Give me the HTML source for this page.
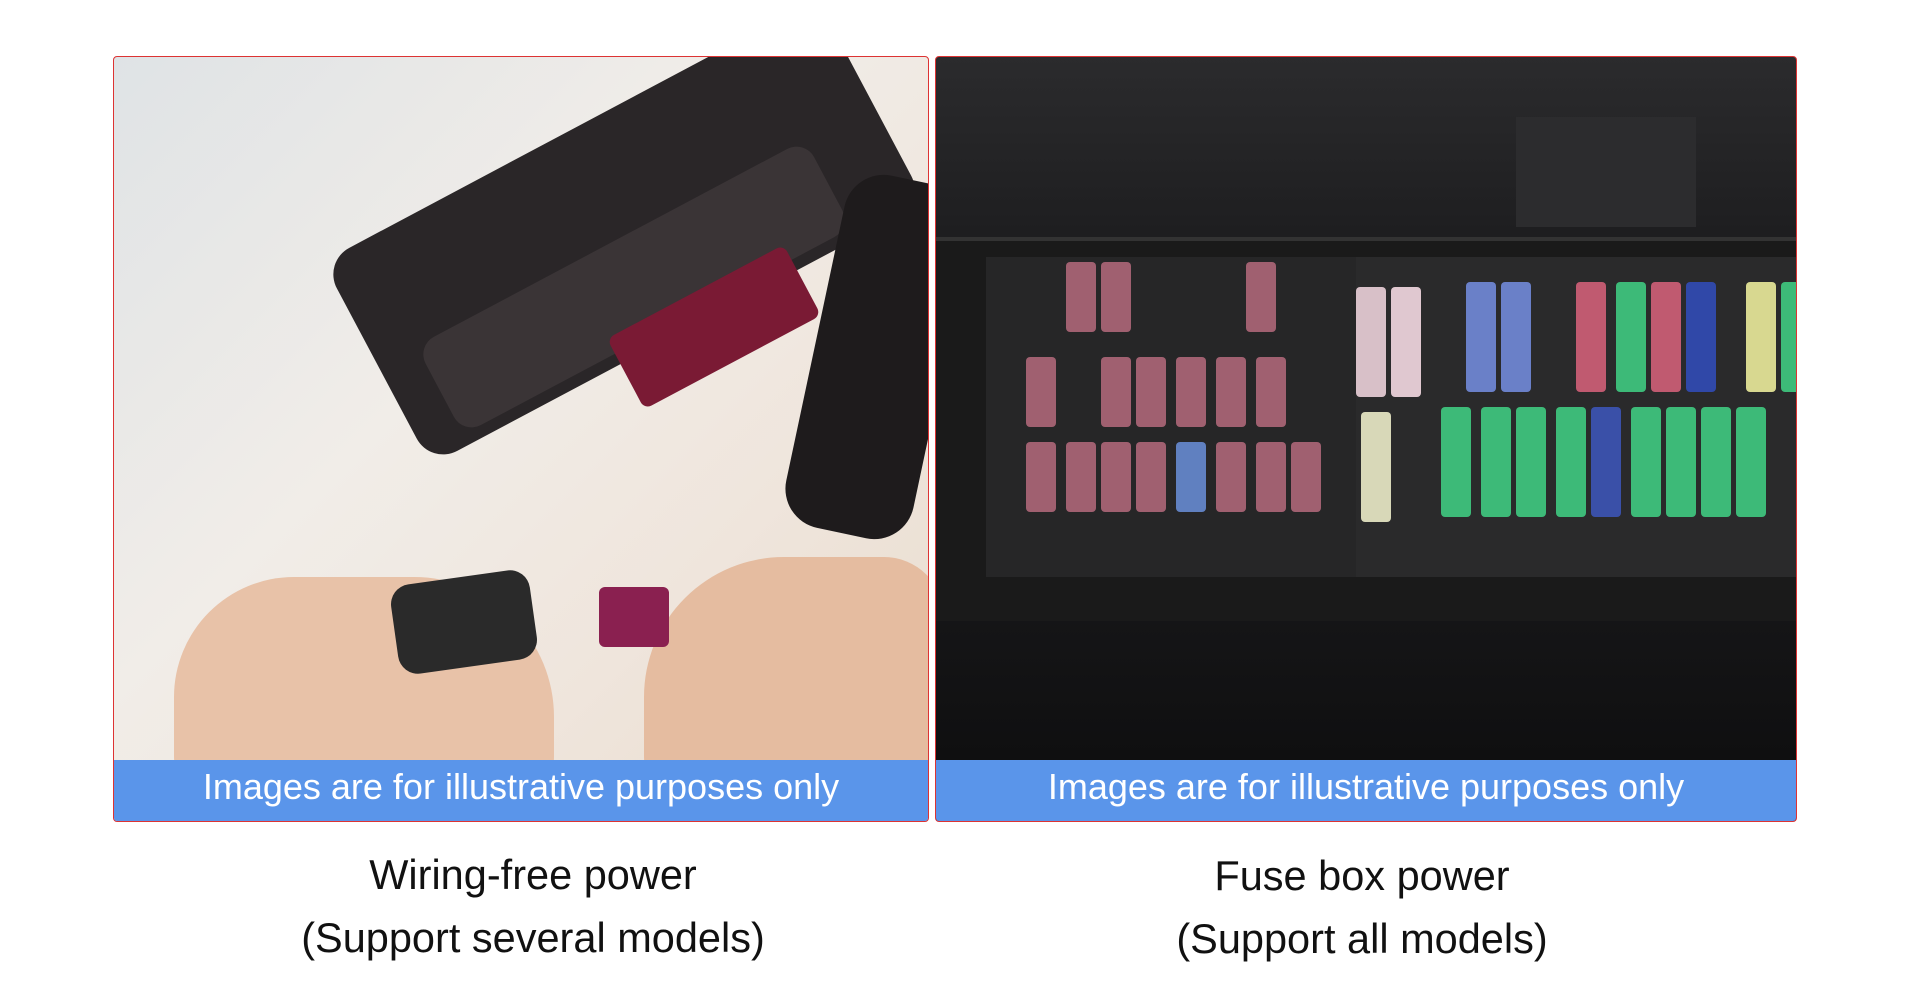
<!DOCTYPE html>
<html><head><meta charset="utf-8"><style>
body{margin:0;width:1920px;height:1004px;background:#fff;position:relative;overflow:hidden;font-family:"Liberation Sans",sans-serif}
.p{position:absolute;top:56px;height:766px;border:1px solid #d33;border-radius:4px;overflow:hidden;box-sizing:border-box}
.bar{position:absolute;left:0;right:0;bottom:0;height:61px;background:#5a95ea;color:#fff;font-size:36px;text-align:center;line-height:54px}
.t{position:absolute;width:800px;text-align:center;font-size:41.5px;color:#111;line-height:63px}
.f{position:absolute;width:30px;height:70px;border-radius:4px}
</style></head><body>
<div class="p" style="left:113px;width:816px;background:linear-gradient(135deg,#dfe3e6 0%,#f1ede8 40%,#efe5dc 70%,#e8dccd 100%)">
 <div style="position:absolute;left:230px;top:60px;width:560px;height:230px;background:#2a2628;transform:rotate(-28deg);border-radius:30px"></div>
 <div style="position:absolute;left:300px;top:180px;width:440px;height:100px;background:#3a3436;transform:rotate(-28deg);border-radius:20px"></div>
 <div style="position:absolute;left:500px;top:230px;width:200px;height:80px;background:#7a1a34;transform:rotate(-28deg);border-radius:8px"></div>
 <div style="position:absolute;left:700px;top:120px;width:130px;height:360px;background:#1e1b1c;border-radius:40px;transform:rotate(12deg)"></div>
 <div style="position:absolute;left:60px;top:520px;width:380px;height:220px;background:#e8c2a8;border-radius:120px 140px 40px 40px"></div>
 <div style="position:absolute;left:280px;top:520px;width:140px;height:90px;background:#2a2a2a;border-radius:20px;transform:rotate(-8deg)"></div>
 <div style="position:absolute;left:530px;top:500px;width:300px;height:240px;background:#e5bca0;border-radius:140px 60px 20px 40px"></div>
 <div style="position:absolute;left:485px;top:530px;width:70px;height:60px;background:#8a2050;border-radius:6px"></div>
 <div class="bar">Images are for illustrative purposes only</div>
</div>
<div class="p" style="left:935px;width:862px;background:linear-gradient(180deg,#2b2b2d 0%,#1d1d1f 25%,#1a1a1c 60%,#0c0c0d 100%)">
 <div style="position:absolute;left:0;top:180px;width:867px;height:380px;background:#1a1a1a;border-top:4px solid #333"></div>
 <div style="position:absolute;left:580px;top:60px;width:180px;height:110px;background:#2c2c2e"></div>
 <div style="position:absolute;left:50px;top:200px;width:370px;height:320px;background:#262627"></div>
 <div style="position:absolute;left:420px;top:200px;width:447px;height:320px;background:#2a2a2b"></div>
 <div class="f" style="left:130px;top:205px;background:#a06070"></div><div class="f" style="left:165px;top:205px;background:#a06070"></div><div class="f" style="left:310px;top:205px;background:#a06070"></div>
 <div class="f" style="left:90px;top:300px;background:#a06070"></div><div class="f" style="left:165px;top:300px;background:#a06070"></div><div class="f" style="left:200px;top:300px;background:#a06070"></div><div class="f" style="left:240px;top:300px;background:#a06070"></div><div class="f" style="left:280px;top:300px;background:#a06070"></div><div class="f" style="left:320px;top:300px;background:#a06070"></div>
 <div class="f" style="left:90px;top:385px;background:#a06070"></div><div class="f" style="left:130px;top:385px;background:#a06070"></div><div class="f" style="left:165px;top:385px;background:#a06070"></div><div class="f" style="left:200px;top:385px;background:#a06070"></div><div class="f" style="left:240px;top:385px;background:#6080c0"></div><div class="f" style="left:280px;top:385px;background:#a06070"></div><div class="f" style="left:320px;top:385px;background:#a06070"></div><div class="f" style="left:355px;top:385px;background:#a06070"></div>
 <div class="f" style="left:420px;top:230px;background:#d8c0c8;height:110px"></div><div class="f" style="left:455px;top:230px;background:#e0c8d0;height:110px"></div>
 <div class="f" style="left:530px;top:225px;background:#6a80c8;height:110px"></div><div class="f" style="left:565px;top:225px;background:#6a80c8;height:110px"></div><div class="f" style="left:640px;top:225px;background:#c05a70;height:110px"></div><div class="f" style="left:680px;top:225px;background:#3dba78;height:110px"></div><div class="f" style="left:715px;top:225px;background:#c05a70;height:110px"></div><div class="f" style="left:750px;top:225px;background:#3048a8;height:110px"></div><div class="f" style="left:810px;top:225px;background:#d8d890;height:110px"></div><div class="f" style="left:845px;top:225px;background:#3dba78;height:110px"></div>
 <div class="f" style="left:425px;top:355px;background:#d8d8b8;height:110px"></div>
 <div class="f" style="left:505px;top:350px;background:#3dba78;height:110px"></div><div class="f" style="left:545px;top:350px;background:#3dba78;height:110px"></div><div class="f" style="left:580px;top:350px;background:#3dba78;height:110px"></div><div class="f" style="left:620px;top:350px;background:#3dba78;height:110px"></div><div class="f" style="left:655px;top:350px;background:#3a50a8;height:110px"></div><div class="f" style="left:695px;top:350px;background:#3dba78;height:110px"></div><div class="f" style="left:730px;top:350px;background:#3dba78;height:110px"></div><div class="f" style="left:765px;top:350px;background:#3dba78;height:110px"></div><div class="f" style="left:800px;top:350px;background:#3dba78;height:110px"></div>
 <div class="bar">Images are for illustrative purposes only</div>
</div>
<div class="t" style="left:133px;top:843px">Wiring-free power<br>(Support several models)</div>
<div class="t" style="left:962px;top:844px">Fuse box power<br>(Support all models)</div>
</body></html>
